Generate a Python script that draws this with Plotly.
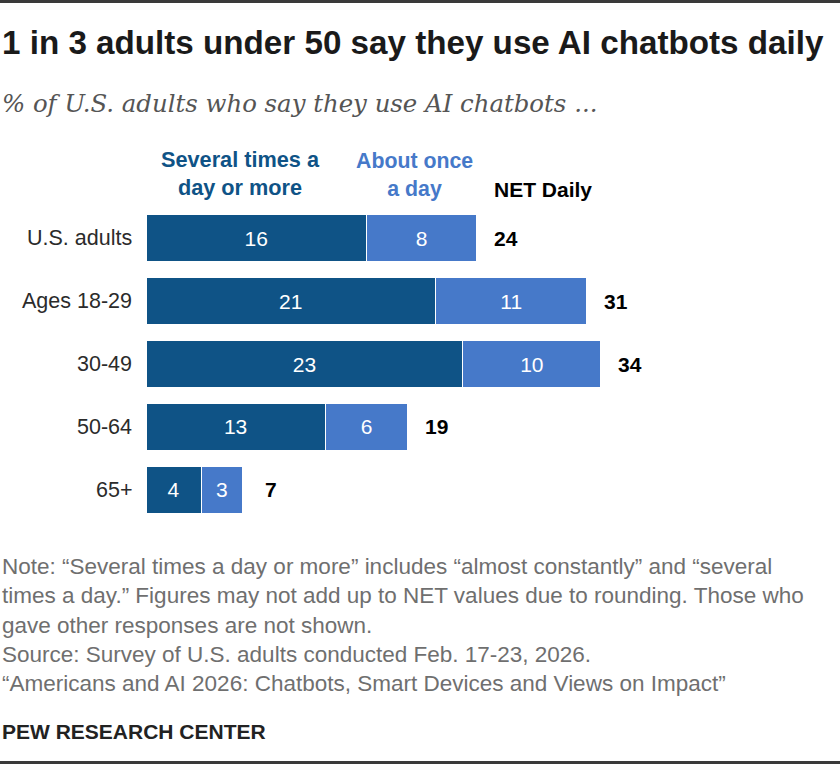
import plotly.graph_objects as go

categories = ["U.S. adults", "Ages 18-29", "30-49", "50-64", "65+"]
several = [16, 21, 23, 13, 4]
once = [8, 11, 10, 6, 3]
net_daily = [24, 31, 34, 19, 7]
series_names = ["Several times a<br>day or more", "About once<br>a day", "NET Daily"]

title = "1 in 3 adults under 50 say they use AI chatbots daily"
subtitle = "% of U.S. adults who say they use AI chatbots ..."
note_lines = [
    "Note: \u201cSeveral times a day or more\u201d includes \u201calmost constantly\u201d and \u201cseveral",
    "times a day.\u201d Figures may not add up to NET values due to rounding. Those who",
    "gave other responses are not shown.",
    "Source: Survey of U.S. adults conducted Feb. 17-23, 2026.",
    "\u201cAmericans and AI 2026: Chatbots, Smart Devices and Views on Impact\u201d",
]
credit = "PEW RESEARCH CENTER"

DARK = "#0f5386"
LIGHT = "#4679c9"
SANS = "Liberation Sans, Arial, sans-serif"
SERIF = "DejaVu Serif, Georgia, Liberation Serif, serif"

W, H = 840, 764
ML, MR, MT, MB = 146, 143, 207, 243
PW, PH = W - ML - MR, H - MT - MB


def px(x):
    return (x - ML) / PW


def py(y):
    return (H - MB - y) / PH


fig = go.Figure()
fig.add_trace(go.Bar(
    y=categories, x=several, orientation="h", name="several",
    marker=dict(color=DARK, line=dict(color="white", width=1)),
    text=[str(v) for v in several], textposition="inside", insidetextanchor="middle",
    textfont=dict(color="white", size=21, family=SANS), cliponaxis=False,
))
fig.add_trace(go.Bar(
    y=categories, x=once, orientation="h", name="once",
    marker=dict(color=LIGHT, line=dict(color="white", width=1)),
    text=[str(v) for v in once], textposition="inside", insidetextanchor="middle",
    textfont=dict(color="white", size=21, family=SANS), cliponaxis=False,
))

ann = []
for c, s, o, n in zip(categories, several, once, net_daily):
    ann.append(dict(x=s + o, y=c, xref="x", yref="y", text=f"<b>{n}</b>", showarrow=False,
                    xanchor="center", xshift=29, font=dict(size=21, color="#000", family=SANS)))
    ann.append(dict(x=px(134), y=c, xref="paper", yref="y", text=c, showarrow=False,
                    xanchor="right", font=dict(size=21.5, color="#2b2b2b", family=SANS)))

# column headers
ann.append(dict(x=px(240), y=py(173), xref="paper", yref="paper", text=f"<b>{series_names[0]}</b>",
                showarrow=False, xanchor="center", yanchor="middle", align="center",
                font=dict(size=21.7, color=DARK, family=SANS)))
ann.append(dict(x=px(414), y=py(175), xref="paper", yref="paper", text=f"<b>{series_names[1]}</b>",
                showarrow=False, xanchor="center", yanchor="middle", align="center",
                font=dict(size=21.3, color=LIGHT, family=SANS)))
ann.append(dict(x=px(492), y=py(189), xref="paper", yref="paper", text=f"<b>{series_names[2]}</b>",
                showarrow=False, xanchor="left", yanchor="middle",
                font=dict(size=21, color="#000", family=SANS)))

# title & subtitle
ann.append(dict(x=px(0), y=py(43), xref="paper", yref="paper", text=f"<b>{title}</b>",
                showarrow=False, xanchor="left", yanchor="middle",
                font=dict(size=33.2, color="#1a1a1a", family=SANS)))
ann.append(dict(x=px(0), y=py(103), xref="paper", yref="paper", text=f"<i>{subtitle}</i>",
                showarrow=False, xanchor="left", yanchor="middle",
                font=dict(size=24.4, color="#555", family=SERIF)))

note_y = [566, 595, 625, 654, 683]
for t, yy in zip(note_lines, note_y):
    ann.append(dict(x=px(0), y=py(yy), xref="paper", yref="paper", text=t,
                    showarrow=False, xanchor="left", yanchor="middle",
                    font=dict(size=22.5, color="#6f6f6f", family=SANS)))
ann.append(dict(x=px(0), y=py(731), xref="paper", yref="paper", text=f"<b>{credit}</b>",
                showarrow=False, xanchor="left", yanchor="middle",
                font=dict(size=21, color="#222", family=SANS)))

shapes = [
    dict(type="rect", xref="paper", yref="paper", x0=px(0), x1=px(W), y0=py(0), y1=py(3),
         fillcolor="#3a3a3a", line=dict(width=0)),
    dict(type="rect", xref="paper", yref="paper", x0=px(0), x1=px(W), y0=py(761), y1=py(764),
         fillcolor="#3a3a3a", line=dict(width=0)),
]

fig.update_layout(
    width=W, height=H, barmode="stack", bargap=0.25, showlegend=False,
    margin=dict(l=ML, r=MR, t=MT, b=MB, pad=0),
    plot_bgcolor="white", paper_bgcolor="white",
    xaxis=dict(range=[0, PW / 13.78], visible=False, fixedrange=True),
    yaxis=dict(autorange="reversed", visible=False, fixedrange=True),
    annotations=ann, shapes=shapes,
    uniformtext=dict(mode="show", minsize=10),
)

fig.write_html("out.html")
